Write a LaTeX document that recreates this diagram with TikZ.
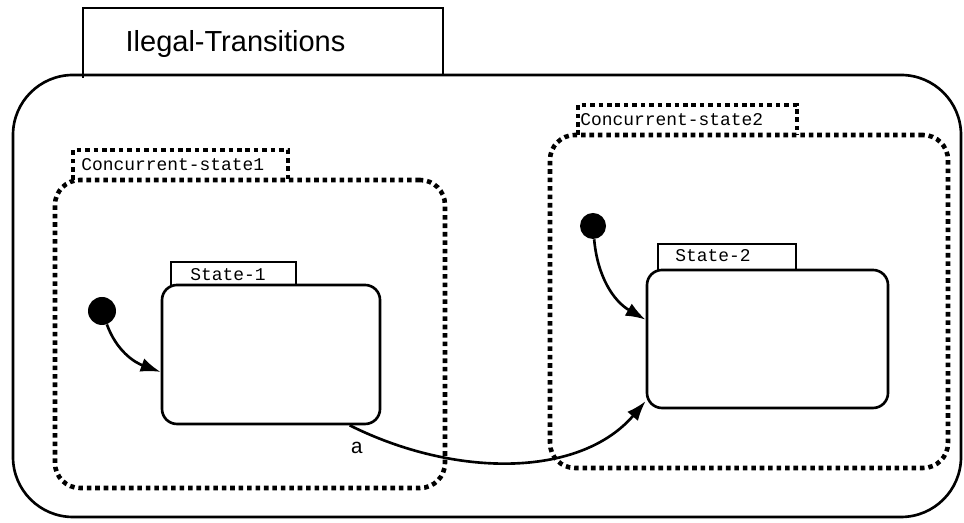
\documentclass[tikz,border=0pt]{standalone}
\usepackage{fontspec}
\setmainfont{Liberation Sans}
\setmonofont{Liberation Mono}
\usetikzlibrary{arrows.meta}

\begin{document}
\begin{tikzpicture}[scale=1,inner sep=0.4mm,
  dotbox/.style={draw, line width=2.6pt, dash pattern=on 2.6pt off 2.2pt, rounded corners=0.5cm},
  statebox/.style={draw, line width=1.5pt, rounded corners=0.3cm},
  initdot/.style={circle, fill=black, inner sep=0pt},
  lbl/.style={font=\fontsize{10.2}{12}\ttfamily, anchor=west},
  trans/.style={line width=1.5pt, -{Latex[length=4mm,width=2.8mm]}}]

\useasboundingbox (0,0) rectangle (19.28,10.46);

\draw [line width=1.5pt, rounded corners=1.2cm] (0.26,0.12) rectangle (19.22,8.96);
\draw [line width=1.2pt] (1.66,8.90)--(1.66,10.30)--(8.86,10.30)--(8.86,8.96);
\node (title) at (4.71,9.58) {\fontsize{16.5}{18}\selectfont Ilegal-Transitions};

\node (c1) at (5.00,3.78) [dotbox, minimum width=7.80cm, minimum height=6.16cm] {};
\draw [dotbox, rounded corners=0pt] (1.46,6.86)--(1.46,7.46)--(5.76,7.46)--(5.76,6.86);
\node (c1l) at (1.58,7.16) [lbl] {Concurrent-state1};

\node (c2) at (14.98,4.43) [dotbox, minimum width=7.96cm, minimum height=6.66cm] {};
\draw [dotbox, rounded corners=0pt] (11.56,7.76)--(11.56,8.36)--(15.94,8.36)--(15.94,7.76);
\node (c2l) at (11.56,8.06) [lbl] {Concurrent-state2};

\node (s1) at (5.42,3.37) [statebox, minimum width=4.36cm, minimum height=2.78cm] {};
\draw [line width=1.2pt] (3.42,4.76)--(3.42,5.22)--(5.92,5.22)--(5.92,4.76);
\node (s1l) at (4.56,4.96) {\fontsize{10.2}{12}\ttfamily State-1};

\node (s2) at (15.35,3.68) [statebox, minimum width=4.82cm, minimum height=2.76cm] {};
\draw [line width=1.2pt] (13.16,5.06)--(13.16,5.58)--(15.92,5.58)--(15.92,5.06);
\node (s2l) at (14.26,5.34) {\fontsize{10.2}{12}\ttfamily State-2};

\node (i1) at (2.04,4.24) [initdot, minimum size=0.56cm] {};
\node (i2) at (11.86,5.94) [initdot, minimum size=0.52cm] {};

\draw [trans] (i1) to[out=-70, in=160] (s1.189);
\draw [trans] (i2) to[out=-85, in=150] (s2.171);
\draw [trans] (s1.318) .. controls (9.1,0.9) and (11.6,0.9) .. (s2.207);
\node (a) at (7.14,1.50) {\fontsize{12}{14}\ttfamily a};

\end{tikzpicture}
\end{document}
